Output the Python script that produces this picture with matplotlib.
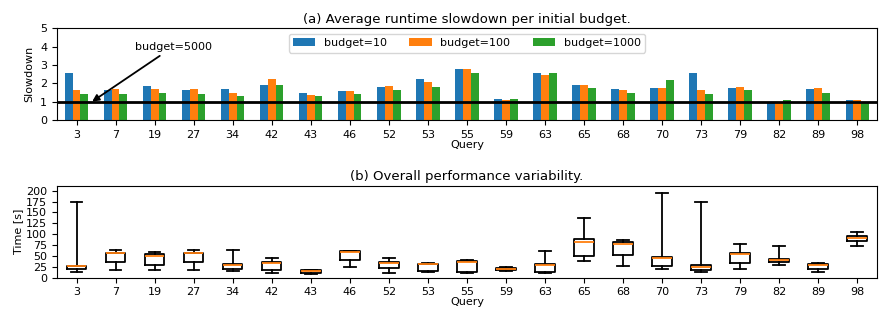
import matplotlib
matplotlib.use('Agg')
import matplotlib.pyplot as plt
import numpy as np

queries = ['3', '7', '19', '27', '34', '42', '43', '46', '52', '53', '55',
           '59', '63', '65', '68', '70', '73', '79', '82', '89', '98']

# slowdown per initial budget
budget_10 = [2.54, 1.64, 1.85, 1.64, 1.66, 1.93, 1.44, 1.57, 1.78, 2.21, 2.80,
             1.14, 2.58, 1.89, 1.66, 1.74, 2.54, 1.72, 0.99, 1.66, 1.08]
budget_100 = [1.63, 1.68, 1.70, 1.68, 1.44, 2.24, 1.36, 1.57, 1.85, 2.09, 2.80,
              1.10, 2.43, 1.91, 1.63, 1.76, 1.63, 1.79, 0.99, 1.74, 1.08]
budget_1000 = [1.42, 1.40, 1.46, 1.40, 1.33, 1.89, 1.33, 1.40, 1.64, 1.81, 2.58,
               1.12, 2.54, 1.74, 1.46, 2.15, 1.42, 1.64, 1.10, 1.48, 0.97]
baseline = 1.0

# runtime variability [s]: lower whisker, q1, median, q3, upper whisker
whislo = [12, 18, 18, 18, 15, 11, 8, 24, 11, 12, 10, 15, 11.5, 39, 27.6, 21, 12, 19, 28, 14, 72]
q1 = [19, 35, 28, 35, 21, 17, 11, 40, 23, 16, 13, 17.6, 13, 49, 51, 27.6, 18, 34, 36, 19, 85]
med = [26, 56, 50, 56, 28, 34, 15, 58, 34, 30.6, 35, 20, 29, 83, 78, 45, 25, 54, 41, 28, 92]
q3 = [27.6, 57, 54, 57, 31, 37, 17, 60.5, 37, 32, 37.5, 22, 31, 90, 83, 48, 28, 56, 44, 31, 96]
whishi = [174, 63, 60, 63, 64, 46, 18, 62, 46, 34.5, 40.6, 25, 62, 138, 87, 194, 174, 77, 74, 34, 104]

plt.rcParams['font.family'] = 'DejaVu Sans'
plt.rcParams['font.size'] = 8

fig, (ax1, ax2) = plt.subplots(2, 1, figsize=(8.91, 3.24), dpi=100)
fig.subplots_adjust(left=0.064, right=0.984, top=0.913, bottom=0.143, hspace=0.72)

x = np.arange(len(queries))
w = 0.2
ax1.bar(x - w, budget_10, w, color='C0', label='budget=10')
ax1.bar(x, budget_100, w, color='C1', label='budget=100')
ax1.bar(x + w, budget_1000, w, color='C2', label='budget=1000')
ax1.axhline(baseline, color='black', linewidth=2)
ax1.annotate('budget=5000', xy=(0.4, 1.0), xytext=(1.5, 4.0),
             va='center', ha='left',
             arrowprops=dict(arrowstyle='-|>', color='black', lw=1.3, mutation_scale=10,
                             shrinkA=2, shrinkB=0))
ax1.set_xticks(x)
ax1.set_xticklabels(queries)
ax1.set_xlim(-0.5, len(queries) - 0.5)
ax1.set_ylim(0, 5)
ax1.set_yticks(range(6))
ax1.set_ylabel('Slowdown')
ax1.set_xlabel('Query', labelpad=0)
ax1.set_title('(a) Average runtime slowdown per initial budget.', fontsize=9.5, pad=4)
ax1.legend(loc='upper center', ncol=3, borderaxespad=0.5)

stats = []
for i in range(len(queries)):
    stats.append(dict(whislo=whislo[i], q1=q1[i], med=med[i], q3=q3[i],
                      whishi=whishi[i], fliers=[]))
ax2.bxp(stats, positions=x, widths=0.5, capwidths=0.3, showfliers=False,
        boxprops=dict(color='black', linewidth=1.3),
        whiskerprops=dict(color='black', linewidth=1.3),
        capprops=dict(color='black', linewidth=1.3),
        medianprops=dict(color='C1', linewidth=1.3))
ax2.set_xticks(x)
ax2.set_xticklabels(queries)
ax2.set_xlim(-0.5, len(queries) - 0.5)
ax2.set_ylim(0, 211)
ax2.set_yticks(range(0, 201, 25))
ax2.set_ylabel('Time [s]', labelpad=2)
ax2.set_xlabel('Query', labelpad=0)
ax2.set_title('(b) Overall performance variability.', fontsize=9.5, pad=4)

fig.savefig('out.png', dpi=100)
